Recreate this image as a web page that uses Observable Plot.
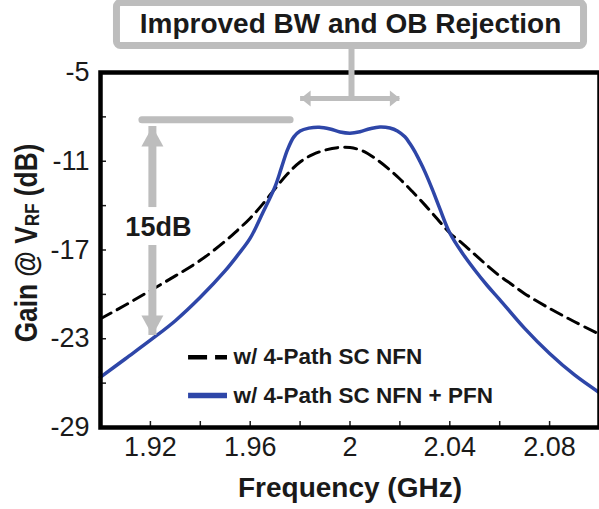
<!DOCTYPE html>
<html><head><meta charset="utf-8">
<script src="https://cdn.jsdelivr.net/npm/d3@7"></script>
<script src="https://cdn.jsdelivr.net/npm/@observablehq/plot@0.6"></script>
<style>
html,body{margin:0;padding:0;background:#fff;}
#chart{width:599px;height:509px;overflow:hidden;}
</style></head><body><div id="chart"></div>
<script>
// ---- data ----
const freqNFN = [1.900,1.910,1.920,1.930,1.940,1.950,1.955,1.960,1.965,1.970,1.975,1.980,1.985,1.990,1.995,2.000,2.005,2.010,2.015,2.020,2.025,2.030,2.035,2.040,2.045,2.050,2.055,2.060,2.065,2.070,2.080,2.090,2.100];
const gainNFN = [-21.65,-20.72,-19.74,-18.75,-17.7,-16.4,-15.65,-14.85,-13.9,-12.85,-11.85,-11.05,-10.55,-10.25,-10.08,-10.07,-10.3,-10.8,-11.45,-12.2,-13.05,-13.95,-14.9,-15.85,-16.55,-17.3,-18.05,-18.75,-19.35,-19.95,-20.95,-21.85,-22.7];
const freqPFN = [1.900,1.910,1.920,1.930,1.940,1.950,1.955,1.960,1.965,1.970,1.9725,1.975,1.9775,1.980,1.9835,1.9877,1.992,1.996,2.000,2.004,2.008,2.012,2.016,2.019,2.022,2.024,2.026,2.028,2.030,2.033,2.036,2.040,2.045,2.050,2.055,2.060,2.070,2.080,2.090,2.100];
const gainPFN = [-25.6,-24.35,-23.1,-21.78,-20.2,-18.4,-17.35,-16.2,-14.5,-12.7,-11.45,-10.2,-9.35,-8.95,-8.76,-8.70,-8.82,-9.02,-9.1,-9.0,-8.8,-8.68,-8.75,-8.95,-9.35,-9.8,-10.35,-11.0,-11.7,-12.9,-14.2,-15.85,-17.2,-18.35,-19.4,-20.35,-22.3,-24.0,-25.45,-26.65];
const seriesNames = ["w/ 4-Path SC NFN", "w/ 4-Path SC NFN + PFN"];
const xMinorTicks = [1.92,1.94,1.96,1.98,2,2.02,2.04,2.06,2.08];
const xTickLabels = [1.92,1.96,2,2.04,2.08];
const yMinorTicks = [-26,-23,-20,-17,-14,-11,-8];
const yTickLabels = [-29,-23,-17,-11,-5];
const xTitle = "Frequency (GHz)";
const yTitleParts = ["Gain @ V", "RF", " (dB)"];
const calloutText = "Improved BW and OB Rejection";
const rejectionText = "15dB";

// ---- annotation anchors (data units) ----
const A = {
  boxX1: 1.9066, boxX2: 2.0938, boxY1: -0.30, boxY2: -3.21,
  titleX: 2.0002, titleY: -1.69,
  stemX: 2.0006, stemY1: -3.21, stemY2: -6.76,
  bwY: -6.76, bwX1: 1.9802, bwX2: 2.0200,
  refY: -8.2, refX1: 1.9168, refX2: 1.9762,
  dbX: 1.9208, dbTop: -8.65, dbBottom: -22.78, dbGapTop: -14.13, dbGapBottom: -16.70,
  dbLabelX: 1.9232, dbLabelY: -15.46,
  legX1: 1.9353, legX2: 1.9509, legTextX: 1.9533, legY: [-24.25, -26.84]
};

const GRAY = "#bdbdbd", BLUE = "#2e46a8", INK = "#1a1a1a";
const head = (pts) => ({draw(ctx) { ctx.moveTo(0, 0); ctx.lineTo(pts[0], pts[1]); ctx.lineTo(pts[2], pts[3]); ctx.closePath(); }});
const headUp = head([-11, 20, 11, 20]);
const headDown = head([-11, -20, 11, -20]);
const headLeft = head([10, -8, 10, 8]);
const headRight = head([-10, -8, -10, 8]);

const nfn = freqNFN.map((f, i) => ({f, g: gainNFN[i]}));
const pfn = freqPFN.map((f, i) => ({f, g: gainPFN[i]}));

const chart = Plot.plot({
  width: 599, height: 509,
  marginLeft: 100, marginRight: 0, marginTop: 72, marginBottom: 82,
  x: {domain: [1.9, 2.1], label: null},
  y: {domain: [-29, -5], label: null},
  style: {fontFamily: "'Liberation Sans', Arial, sans-serif", background: "white", color: INK},
  marks: [
    Plot.line(nfn, {x: "f", y: "g", stroke: "black", strokeWidth: 3, strokeDasharray: "12,7", curve: "catmull-rom"}),
    Plot.line(pfn, {x: "f", y: "g", stroke: BLUE, strokeWidth: 3.5, curve: "catmull-rom"}),
    Plot.axisX(xMinorTicks, {tickSize: -6, strokeWidth: 1.5, tickFormat: () => "", label: null}),
    Plot.axisX(xTickLabels, {tickSize: 0, tickPadding: 9, fontSize: 27, fill: INK, tickFormat: d => String(d), label: null}),
    Plot.axisY(yMinorTicks, {tickSize: -6, strokeWidth: 1.5, tickFormat: () => "", label: null}),
    Plot.axisY(yTickLabels, {tickSize: 0, tickPadding: 11, fontSize: 27, fill: INK, tickFormat: d => String(d), label: null}),
    Plot.frame({stroke: "black", strokeWidth: 4.5}),
    // callout box
    Plot.ruleX([A.stemX], {y1: A.stemY1, y2: A.stemY2, stroke: GRAY, strokeWidth: 6}),
    Plot.rect([A], {x1: "boxX1", x2: "boxX2", y1: "boxY1", y2: "boxY2", fill: "white", stroke: GRAY, strokeWidth: 7, rx: 4}),
    Plot.text([calloutText], {x: A.titleX, y: A.titleY, text: d => d, fontSize: 28, fontWeight: "bold", fill: INK, lineAnchor: "middle"}),
    // bandwidth double arrow
    Plot.ruleY([A.bwY], {x1: A.bwX1, x2: A.bwX2, stroke: GRAY, strokeWidth: 5}),
    Plot.dot([A.bwX1], {x: d => d, y: A.bwY, symbol: headLeft, fill: GRAY, stroke: null}),
    Plot.dot([A.bwX2], {x: d => d, y: A.bwY, symbol: headRight, fill: GRAY, stroke: null}),
    // 15 dB reference
    Plot.ruleY([A.refY], {x1: A.refX1, x2: A.refX2, stroke: GRAY, strokeWidth: 7, strokeLinecap: "round"}),
    Plot.ruleX([A.dbX], {y1: A.dbTop, y2: A.dbGapTop, stroke: GRAY, strokeWidth: 8}),
    Plot.ruleX([A.dbX], {y1: A.dbGapBottom, y2: A.dbBottom, stroke: GRAY, strokeWidth: 8}),
    Plot.dot([A.dbTop], {x: A.dbX, y: d => d, symbol: headUp, fill: GRAY, stroke: null}),
    Plot.dot([A.dbBottom], {x: A.dbX, y: d => d, symbol: headDown, fill: GRAY, stroke: null}),
    Plot.text([rejectionText], {x: A.dbLabelX, y: A.dbLabelY, text: d => d, fontSize: 27, fontWeight: "bold", fill: INK, lineAnchor: "middle"}),
    // legend
    Plot.ruleY([A.legY[0]], {x1: A.legX1, x2: A.legX2, stroke: "black", strokeWidth: 4.5, strokeDasharray: "19,8"}),
    Plot.ruleY([A.legY[1]], {x1: A.legX1, x2: A.legX2, stroke: BLUE, strokeWidth: 5.5}),
    Plot.text(seriesNames, {x: A.legTextX, y: (d, i) => A.legY[i], text: d => d, textAnchor: "start", fontSize: 22.5, fontWeight: "bold", fill: INK, lineAnchor: "middle"})
  ]
});
document.getElementById("chart").appendChild(chart);

const svg = d3.select(chart);
svg.append("text")
  .attr("x", 350).attr("y", 497)
  .attr("text-anchor", "middle")
  .attr("font-size", 28).attr("font-weight", "bold").attr("fill", INK)
  .text(xTitle);
const yt = svg.append("text")
  .attr("transform", "translate(37,243) rotate(-90) scale(0.82,1)")
  .attr("text-anchor", "middle")
  .attr("font-size", 32).attr("font-weight", "bold").attr("fill", INK);
yt.append("tspan").text(yTitleParts[0]);
yt.append("tspan").attr("font-size", 21).attr("dy", 2).text(yTitleParts[1]);
yt.append("tspan").attr("dy", -2).text(yTitleParts[2]);
</script></body></html>
